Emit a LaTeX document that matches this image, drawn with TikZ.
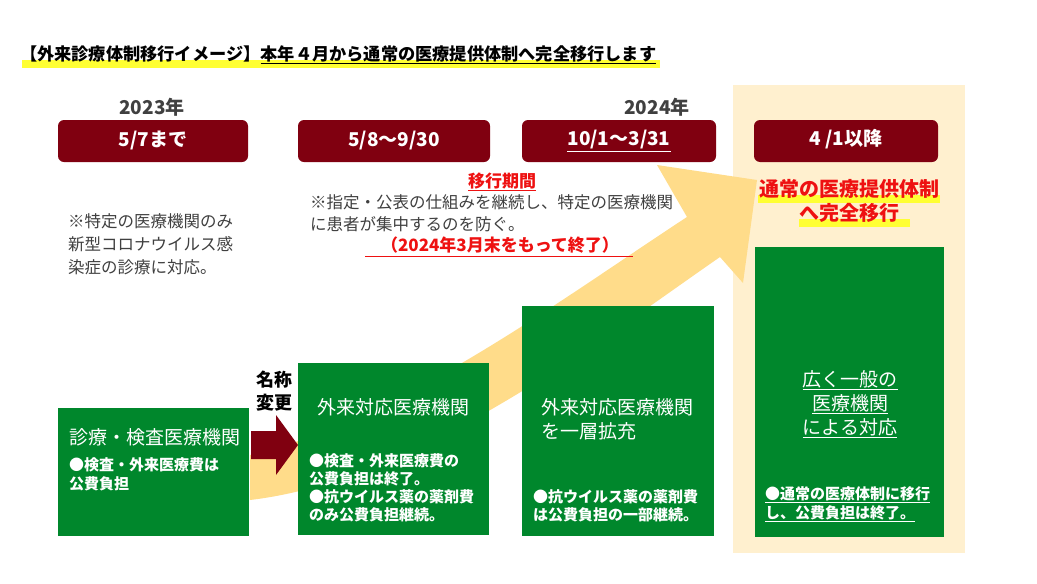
\documentclass[tikz,border=0pt]{standalone}
\usepackage{fontspec}
\setmainfont{Noto Sans CJK JP}
\newcommand\myul[1]{\underline{#1}}
\definecolor{dred}{HTML}{800010}
\definecolor{gr}{HTML}{00872C}
\definecolor{cream}{HTML}{FFF0CF}
\definecolor{ylw}{HTML}{FFDC8A}
\definecolor{hl}{HTML}{FFFF33}
\definecolor{rtx}{HTML}{EE1111}
\definecolor{gtx}{HTML}{404040}
\begin{document}
\begin{tikzpicture}[x=1pt,y=-1pt,
 period/.style={fill=dred,rounded corners=6pt},
 ptext/.style={text=white,font=\fontsize{19}{21}\selectfont\bfseries},
 gbox/.style={fill=gr},
 wt/.style={text=white,anchor=west,inner sep=0pt},
 bul/.style={wt,font=\fontsize{15}{17}\selectfont\bfseries},
 btitle/.style={wt,font=\fontsize{19}{21}\selectfont},
 note/.style={text=gtx,anchor=west,inner sep=0pt,font=\fontsize{16.5}{18}\selectfont}]
\useasboundingbox (0,0) rectangle (1037,584);
\fill[white] (0,0) rectangle (1037,584);
% cream panel
\fill[cream] (733,85) rectangle (965,553);
% big arrow
\fill[ylw] (250,455) .. controls (400,420) and (560,300) .. (687,217) -- (657,165) -- (757,180) -- (743,283) -- (720,257) .. controls (600,340) and (420,480) .. (250,500) -- cycle;
% title
\fill[hl] (22,60) rectangle (660,68);
\node[anchor=west,inner sep=0pt,font=\fontsize{17.2}{19}\selectfont\bfseries] (title) at (20,55) {【外来診療体制移行イメージ】\myul{本年４月から通常の医療提供体制へ完全移行します}};
% years
\node[font=\fontsize{19}{21}\selectfont\bfseries,text=gtx] (y1) at (152,107) {2023年};
\node[font=\fontsize{19}{21}\selectfont\bfseries,text=gtx] (y2) at (657,107) {2024年};
% periods
\fill[period] (58,120) rectangle (248,162); \node[ptext] (p1) at (153,140) {5/7まで};
\fill[period] (298,120) rectangle (490,162); \node[ptext] (p2) at (394,141) {5/8～9/30};
\fill[period] (522,120) rectangle (716,162); \node[ptext] (p3) at (619,141) {\myul{10/1～3/31}};
\fill[period] (754,120) rectangle (938,162); \node[ptext] (p4) at (846,139) {4 /1以降};
% notes
\node[text=rtx,font=\fontsize{17}{19}\selectfont\bfseries] (ik) at (502,182) {\myul{移行期間}};
\node[note] (n1) at (310,202) {※指定・公表の仕組みを継続し、特定の医療機関};
\node[note] (n2) at (310,224) {に患者が集中するのを防ぐ。};
\draw[rtx,line width=0.8pt] (365,256) -- (633,256);
\node[text=rtx,font=\fontsize{17}{19}\selectfont\bfseries] (end) at (500,245) {（2024年3月末をもって終了）};
\node[note] (l1) at (68,221) {※特定の医療機関のみ};
\node[note] (l2) at (68,244) {新型コロナウイルス感};
\node[note] (l3) at (68,267) {染症の診療に対応。};
% right headline
\fill[hl] (758,195) rectangle (940,203);
\fill[hl] (799,219) rectangle (910,227);
\node[text=rtx,font=\fontsize{20}{22}\selectfont\bfseries] (r1) at (849,189) {通常の医療提供体制};
\node[text=rtx,font=\fontsize{20}{22}\selectfont\bfseries] (r2) at (849,213) {へ完全移行};
% green boxes
\fill[gbox] (58,408) rectangle (249,536);
\fill[gbox] (298,363) rectangle (489,535);
\fill[gbox] (522,306) rectangle (714,536);
\fill[gbox] (755,247) rectangle (944,537);
\node[btitle] (b1) at (69,437) {診療・検査医療機関};
\node[bul] (b1a) at (69,465) {●検査・外来医療費は};
\node[bul] (b1b) at (69,484) {公費負担};
\node[btitle] (b2) at (317,407) {外来対応医療機関};
\node[bul] (b2a) at (309,461) {●検査・外来医療費の};
\node[bul] (b2b) at (309,479) {公費負担は終了。};
\node[bul] (b2c) at (309,497) {●抗ウイルス薬の薬剤費};
\node[bul] (b2d) at (309,515) {のみ公費負担継続。};
\node[btitle] (b3) at (541,407) {外来対応医療機関};
\node[btitle] (b3b) at (541,431) {を一層拡充};
\node[bul] (b3c) at (533,497) {●抗ウイルス薬の薬剤費};
\node[bul] (b3d) at (533,515) {は公費負担の一部継続。};
\begin{scope}[every node/.style={text=white,font=\fontsize{19}{21}\selectfont}]
\node (b4a) at (850,380) {\myul{広く一般の}};
\node (b4b) at (850,404) {\myul{医療機関}};
\node (b4c) at (850,428) {\myul{による対応}};
\end{scope}
\node[bul] (b4d) at (765,495) {\myul{●通常の医療体制に移行}};
\node[bul] (b4e) at (765,514) {\myul{し、公費負担は終了。}};
% red arrow
\fill[dred] (251,431) -- (276,431) -- (276,415) -- (298,445) -- (276,475) -- (276,459) -- (251,459) -- cycle;
\node[font=\fontsize{18}{20}\selectfont\bfseries] (nm1) at (274,380) {名称};
\node[font=\fontsize{18}{20}\selectfont\bfseries] (nm2) at (274,403) {変更};
\end{tikzpicture}
\end{document}
